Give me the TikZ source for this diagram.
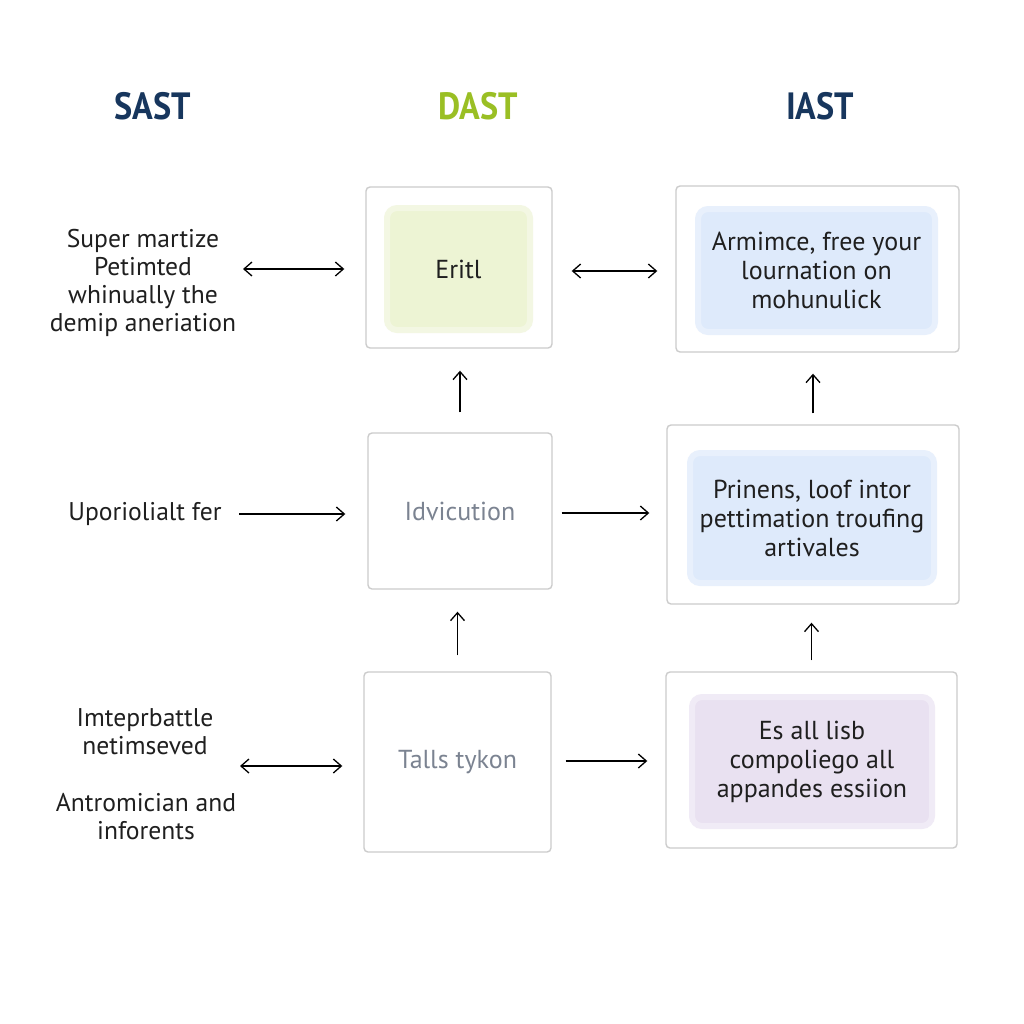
\documentclass[tikz,border=0pt]{standalone}
\usepackage{fontspec}
\setmainfont{PT Sans}
\newfontfamily\headfont{PT Sans}[FakeStretch=0.9]
\usetikzlibrary{arrows}
\usetikzlibrary{arrows.meta}
\usetikzlibrary{positioning}
\definecolor{navy}{HTML}{17365D}
\definecolor{lime}{HTML}{9ABF24}
\definecolor{frame}{HTML}{CCCCCC}
\definecolor{greenfill}{HTML}{EDF4D4}
\definecolor{greenedge}{HTML}{F3F7E3}
\definecolor{bluefill}{HTML}{DEEAFB}
\definecolor{blueedge}{HTML}{E8F0FC}
\definecolor{lilacfill}{HTML}{E9E1F1}
\definecolor{lilacedge}{HTML}{F0EBF6}
\definecolor{mutedtext}{HTML}{7B8391}
\newcommand{\boxfont}{\fontsize{13}{14.5}\selectfont}
\newcommand{\sidefont}{\fontsize{12.8}{14}\selectfont}

\begin{document}
\begin{tikzpicture}[x=0.5pt,y=-0.5pt,>={Straight Barb[length=4pt,width=7pt]},
every node/.style={inner sep=0pt},
title/.style={font=\headfont\bfseries\fontsize{19}{22}\selectfont},
side/.style={font=\sidefont,align=center,text=black!88},
outer/.style={draw=frame,line width=0.7pt,rounded corners=2pt,fill=white},
inner/.style={rounded corners=5pt,line width=3pt,font=\boxfont,align=center,text=black!88},
flow/.style={->,line width=0.65pt},
dbl/.style={<->,line width=0.65pt}]
\useasboundingbox[fill=white] (0,0) rectangle (1024,1024);

%column heads
\node[title,text=navy](hs) at (153,106) {SAST};
\node[title,text=lime](hd) at (478,106) {DAST};
\node[title,text=navy](hi) at (820,106) {IAST};

%DAST column
\node[outer,minimum width=93pt,minimum height=80.5pt](d1) at (459,267.5) {};
\node[inner,fill=greenfill,draw=greenedge,minimum width=71.5pt,minimum height=61pt](d1in) at (458.5,269) {Eritl};
\node[outer,minimum width=92pt,minimum height=78pt,font=\boxfont,text=mutedtext](d2) at (460,511) {Idvicution};
\node[outer,minimum width=93.5pt,minimum height=90pt,font=\boxfont,text=mutedtext](d3) at (457.5,762) {Talls tykon};

%IAST column
\node[outer,minimum width=141.5pt,minimum height=83pt](i1) at (817.5,269) {};
\node[inner,fill=bluefill,draw=blueedge,minimum width=118.5pt,minimum height=61.5pt](i1in) at (816.5,270.5)
	{Armimce, free your\\lournation on\\mohunulick};
\node[outer,minimum width=146pt,minimum height=89.5pt](i2) at (813,514.5) {};
\node[inner,fill=bluefill,draw=blueedge,minimum width=122pt,minimum height=65pt](i2in) at (812,518)
	{Prinens, loof intor\\pettimation troufing\\artivales};
\node[outer,minimum width=145.5pt,minimum height=88pt](i3) at (811.5,760) {};
\node[inner,fill=lilacfill,draw=lilacedge,minimum width=120pt,minimum height=64.5pt](i3in) at (812,761.5)
	{Es all lisb\\compoliego all\\appandes essiion};

%SAST column
\node[side](l1) at (143,283) {Super martize\\Petimted\\whinually the\\demip aneriation};
\node[side](l2) at (145,514) {Uporiolialt fer};
\node[side](l3a) at (145,732) {Imteprbattle\\netimseved};
\node[side](l3b) at (146,817) {Antromician and\\inforents};
\coordinate(a1) at (243,269);
\coordinate(a2) at (239,514);
\coordinate(a3) at (240,766);

%horizontal connectors
\draw[dbl] (a1) -- ([xshift=-10.5pt]d1.west |- a1);
\draw[flow] (a2) -- ([xshift=-11pt]d2.west |- a2);
\draw[dbl] (a3) -- ([xshift=-10.5pt]d3.west |- a3);
\draw[dbl] ([xshift=9.5pt]d1.east |- 0,271) -- ([xshift=-9pt]i1.west |- 0,271);
\draw[flow] ([xshift=4.5pt]d2.east |- 0,513) -- ([xshift=-8.5pt]i2.west |- 0,513);
\draw[flow] ([xshift=7pt]d3.east |- 0,761) -- ([xshift=-9pt]i3.west |- 0,761);

%vertical connectors
\foreach \a/\b/\s/\t in {d2/d1/10pt/11pt,d3/d2/8pt/11pt,i2/i1/5.5pt/10.5pt,i3/i2/5.5pt/9pt}
	\draw[flow,shorten <=\s,shorten >=\t] (\a.north) -- (\a.north |- \b.south);
\end{tikzpicture}
\end{document}
